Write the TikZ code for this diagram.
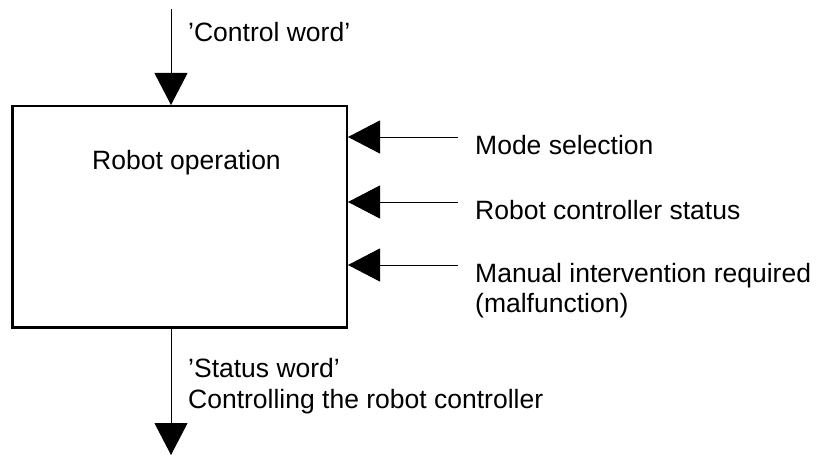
\documentclass[tikz,border=0pt]{standalone}
\usepackage{fontspec}
\setmainfont{Liberation Sans}
\usetikzlibrary{arrows.meta}
\begin{document}
\begin{tikzpicture}[x=1pt,y=1pt,
  lbl/.style={inner sep=0pt, anchor=base west, align=left,
    font=\fontsize{26.5}{30}\selectfont},
  flow/.style={line width=0.9pt, -{Triangle[length=32pt,width=33pt]}},
  blockbox/.style={draw, line width=2.5pt, minimum width=334.5pt,
    minimum height=221.5pt, inner sep=0pt}]
\useasboundingbox (0,0) rectangle (816,455);

% function block
\node[blockbox] (box) at (179.5,238) {};
\node[lbl] (title) at (92,285) {Robot operation};

% control word entering from the top
\coordinate (cin) at (171,446);
\node[lbl] (cw) at (188,413) {’Control word’};
\draw[flow] (cin) -- (box.north -| cin);

% status word leaving at the bottom (base = last line)
\coordinate (cout) at (171,0);
\node[lbl] (sw) at (188,47) {’Status word’\\Controlling the robot controller};
\draw[flow] (box.south -| cout) -- (cout);

% inputs on the right side
\coordinate (i1) at (458,318);
\coordinate (i2) at (458,253);
\coordinate (i3) at (458,190);
\node[lbl] (l1) at (475,300) {Mode selection};
\node[lbl] (l2) at (475,235) {Robot controller status};
\node[lbl] (l3) at (475,142) {Manual intervention required\\(malfunction)};
\draw[flow] (i1) -- (box.east |- i1);
\draw[flow] (i2) -- (box.east |- i2);
\draw[flow] (i3) -- (box.east |- i3);
\end{tikzpicture}
\end{document}
